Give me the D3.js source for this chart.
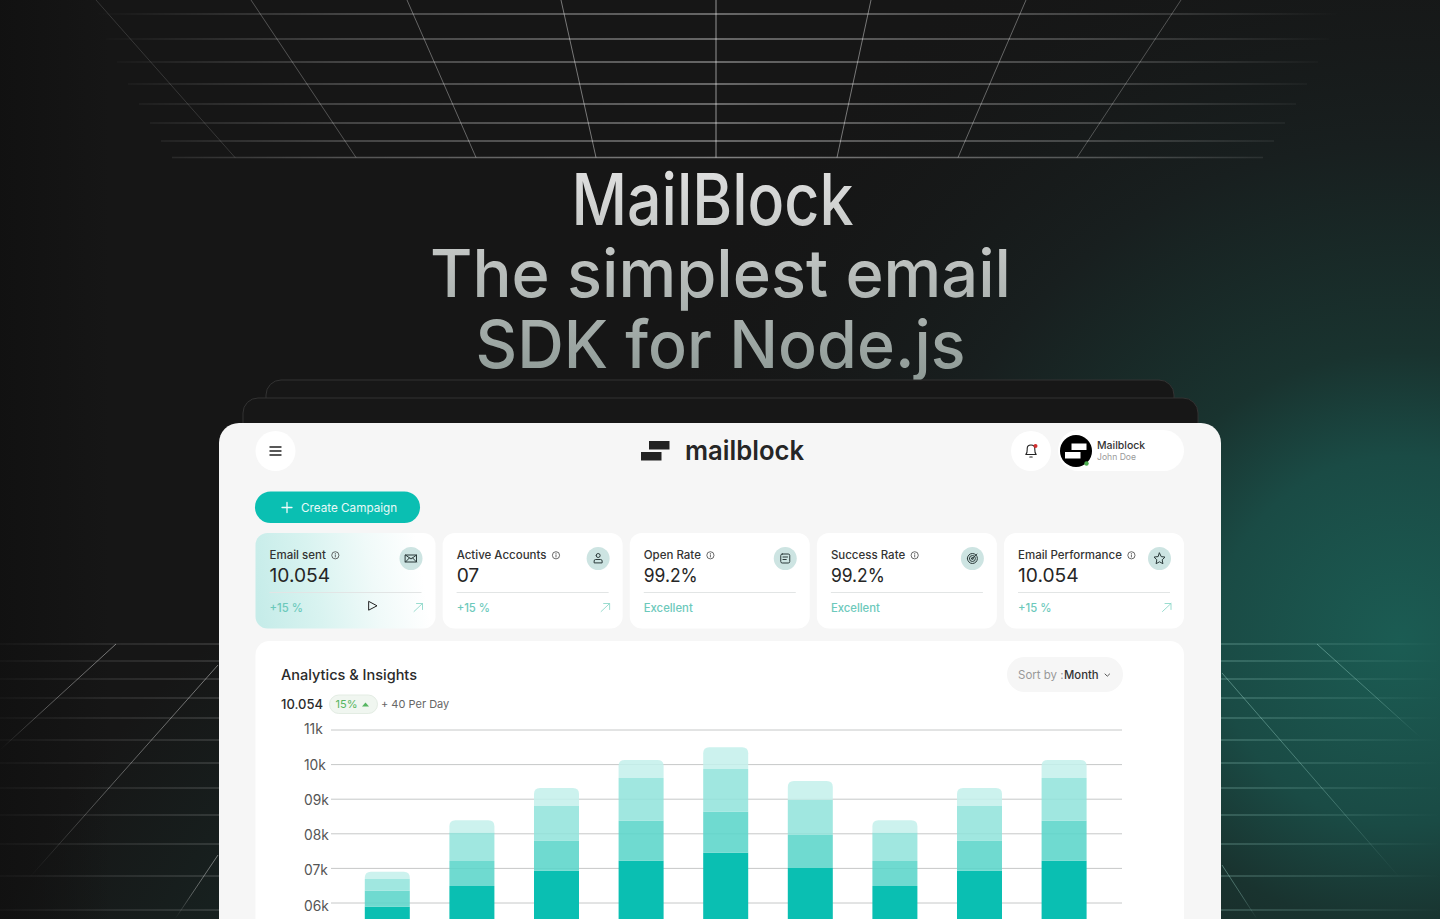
<!DOCTYPE html>
<html>
<head>
<meta charset="utf-8">
<title>MailBlock</title>
<script src="https://cdn.jsdelivr.net/npm/d3@7"></script>
<style>
html, body { margin: 0; padding: 0; background: #161616; overflow: hidden; }
svg { display: block; }
text { font-family: Inter, "Noto Sans", sans-serif; }
</style>
</head>
<body>
<div id="chart"></div>
<script>
// chart data (thousands)
const months = ["Jan", "Feb", "Mar", "Apr", "May", "Jun", "Jul", "Aug", "Sep"];
const sentValues = [5.88, 6.48, 6.92, 7.21, 7.44, 7.00, 6.48, 6.92, 7.21];
const openedValues = [0.46, 0.72, 0.87, 1.15, 1.18, 0.95, 0.72, 0.87, 1.15];
const clickedValues = [0.34, 0.82, 1.00, 1.24, 1.24, 1.02, 0.82, 1.00, 1.24];
const repliedValues = [0.21, 0.36, 0.52, 0.52, 0.63, 0.54, 0.36, 0.52, 0.52];
const yTicks = [6, 7, 8, 9, 10, 11];

const cardTitles = ["Email sent", "Active Accounts", "Open Rate", "Success Rate", "Email Performance"];
const cardValues = ["10.054", "07", "99.2%", "99.2%", "10.054"];
const cardNotes = ["+15 %", "+15 %", "Excellent", "Excellent", "+15 %"];
const cardIcons = ["mail", "user", "note", "target", "star"];

// backdrop wireframe
const topRows = [14, 39, 62, 84, 104, 123, 141, 157.5];
const topRays = [[96, 235, .14], [251, 356, .26], [407, 476, .34], [561, 596, .42], [716, 716, .55], [871, 837, .42], [1026, 958, .34], [1181, 1077, .26]];
const floorRows = [644, 661, 679, 698, 718, 740, 763, 788, 815, 844, 876, 910];
const floorRaysLeft = [[218, 855, 175, 919], [218, 665, 30, 877], [116, 644, 0, 750]];
const floorRaysRight = [[1222, 865, 1257, 919], [1222, 673, 1400, 878], [1317, 644, 1420, 737]];

const width = 1440, height = 919;
const svg = d3.select("#chart").append("svg").attr("width", width).attr("height", height);
const defs = svg.append("defs");

function gradient(id, attrs, stops, radial) {
    const g = defs.append(radial ? "radialGradient" : "linearGradient").attr("id", id).attr("gradientUnits", "userSpaceOnUse");
    Object.keys(attrs).forEach(k => g.attr(k, attrs[k]));
    stops.forEach(s => g.append("stop").attr("offset", s[0]).attr("stop-color", s[1]).attr("stop-opacity", s[2] === undefined ? 1 : s[2]));
}

gradient("glow", {cx: 1400, cy: 640, r: 800}, [[0, "#1b5c53"], [.23, "#1a4b45"], [.36, "#19332f"], [.62, "#181f1f"], [1, "#161616", 0]], true);
gradient("floorGlow", {cx: 600, cy: 1150, r: 640}, [[0, "#1c4a44", .7], [1, "#1c4a44", 0]], true);
gradient("leftShade", {x1: 0, x2: 110, y1: 0, y2: 0}, [[0, "#101010", .8], [1, "#101010", 0]]);
gradient("topRow", {x1: 95, x2: 1340, y1: 0, y2: 0}, [[0, "#fff", 0], [.2, "#fff", .26], [.5, "#fff", .46], [.8, "#fff", .26], [1, "#fff", 0]]);
gradient("floorLeft", {x1: 0, x2: 219, y1: 0, y2: 0}, [[0, "#fff", .04], [.5, "#fff", .16], [1, "#fff", .24]]);
gradient("floorRight", {x1: 1221, x2: 1440, y1: 0, y2: 0}, [[0, "#a6e0d4", .42], [.6, "#a6e0d4", .2], [1, "#a6e0d4", 0]]);
gradient("headline", {x1: 0, x2: 0, y1: 165, y2: 378}, [[0, "#e0e0e0"], [.45, "#bdc1bf"], [1, "#8f9b97"]]);
gradient("cardTint", {x1: 255, x2: 420, y1: 590, y2: 560}, [[0, "#c6ece9"], [.35, "#d8f3f0"], [.7, "#f0faf9"], [1, "#ffffff"]]);

// ---- backdrop
svg.append("rect").attr("width", width).attr("height", height).attr("fill", "#161616");
svg.append("rect").attr("width", width).attr("height", height).attr("fill", "url(#glow)");
svg.append("rect").attr("width", width).attr("height", height).attr("fill", "url(#floorGlow)");
svg.append("rect").attr("width", 110).attr("height", height).attr("fill", "url(#leftShade)");

const wire = svg.append("g").attr("fill", "none");
wire.selectAll(".top-row").data(topRows).enter().append("line")
    .attr("x1", (d, i) => 95 + i * 11).attr("x2", (d, i) => 1340 - i * 11)
    .attr("y1", d => d + .01).attr("y2", d => d)
    .attr("stroke", "url(#topRow)").attr("stroke-width", 1.3);
wire.selectAll(".top-ray").data(topRays).enter().append("line")
    .attr("x1", d => d[0]).attr("y1", 0).attr("x2", d => d[1]).attr("y2", 157.5)
    .attr("stroke", "#fff").attr("stroke-opacity", d => d[2]);
wire.selectAll(".floor-l").data(floorRows).enter().append("line")
    .attr("x1", 0).attr("x2", 219).attr("y1", d => d + .01).attr("y2", d => d)
    .attr("stroke", "url(#floorLeft)");
wire.selectAll(".floor-r").data(floorRows).enter().append("line")
    .attr("x1", 1221).attr("x2", 1440).attr("y1", d => d + .01).attr("y2", d => d)
    .attr("stroke", "url(#floorRight)");

// diagonal floor rays fade out as they leave the window
function fadingRay(ray, i, color, prefix) {
    const id = prefix + i;
    gradient(id, {x1: ray[0], y1: ray[1], x2: ray[2], y2: ray[3]}, [[0, color, .42], [.6, color, .3], [1, color, 0]]);
    wire.append("line").attr("x1", ray[0]).attr("y1", ray[1]).attr("x2", ray[2]).attr("y2", ray[3]).attr("stroke", `url(#${id})`);
}
floorRaysLeft.forEach((r, i) => fadingRay(r, i, "#ffffff", "rayL"));
floorRaysRight.forEach((r, i) => fadingRay(r, i, "#a6e0d4", "rayR"));

// ---- headline
const headlines = [
    {t: "MailBlock", y: 225, size: 72, len: 282, x: 712.5},
    {t: "The simplest email", y: 297, size: 66, len: 581, x: 720.5},
    {t: "SDK for Node.js", y: 368, size: 66, len: 490, x: 720.5}
];
svg.selectAll(".headline").data(headlines).enter().append("text")
    .attr("x", d => d.x).attr("y", d => d.y)
    .attr("text-anchor", "middle").attr("font-size", d => d.size).attr("font-weight", 500)
    .attr("textLength", d => d.len).attr("lengthAdjust", "spacingAndGlyphs")
    .attr("fill", "url(#headline)").text(d => d.t);

// ---- stacked card edges behind the app window
[[266, 380, 908], [243, 398, 955]].forEach(c => {
    svg.append("rect").attr("x", c[0]).attr("y", c[1]).attr("width", c[2]).attr("height", 120).attr("rx", 15)
        .attr("fill", "#171717").attr("stroke", "#333").attr("stroke-width", 1);
});

// ---- app window
svg.append("rect").attr("x", 219).attr("y", 423).attr("width", 1002).attr("height", 560).attr("rx", 20).attr("fill", "#f6f6f6");

function circle(parent, cx, cy, r, fill) {
    return parent.append("circle").attr("cx", cx).attr("cy", cy).attr("r", r).attr("fill", fill);
}
function label(parent, x, y, size, weight, fill, str) {
    return parent.append("text").attr("x", x).attr("y", y).attr("font-size", size).attr("font-weight", weight).attr("fill", fill).text(str);
}
function stroked(parent, d, color, w) {
    return parent.append("path").attr("d", d).attr("fill", "none").attr("stroke", color).attr("stroke-width", w || 1)
        .attr("stroke-linecap", "round").attr("stroke-linejoin", "round");
}

const app = svg.append("g");
circle(app, 275.5, 451, 20, "#fff");
stroked(app, "M270 447H281M270 451H281M270 455H281", "#222", 1.4);

// logo
app.append("rect").attr("x", 649).attr("y", 441).attr("width", 20.5).attr("height", 8.5).attr("fill", "#222");
app.append("rect").attr("x", 641).attr("y", 452).attr("width", 20.5).attr("height", 8.5).attr("fill", "#222");
label(app, 685, 460, 27, 600, "#262626", "mailblock").attr("textLength", 119).attr("lengthAdjust", "spacingAndGlyphs");

// bell + profile
circle(app, 1031, 451, 20, "#fff");
stroked(app, "M1025.8 454.5C1027.6 452.5 1027.2 450 1027.2 448.5C1027.2 446.3 1029 445 1031 445C1033 445 1034.8 446.3 1034.8 448.5C1034.8 450 1034.4 452.5 1036.2 454.5ZM1029.8 457H1032.2", "#222", 1.1);
circle(app, 1035.5, 446, 2, "#d32f2f");
app.append("rect").attr("x", 1058).attr("y", 430).attr("width", 126).attr("height", 41).attr("rx", 20.5).attr("fill", "#fff");
circle(app, 1076, 451, 16, "#000");
app.append("rect").attr("x", 1071.5).attr("y", 443.5).attr("width", 15).attr("height", 6.5).attr("fill", "#fff");
app.append("rect").attr("x", 1065).attr("y", 452).attr("width", 15.5).attr("height", 6.5).attr("fill", "#fff");
circle(app, 1086.5, 463.5, 2.2, "#4caf50");
label(app, 1097, 449, 10.5, 500, "#333", "Mailblock");
label(app, 1097, 460, 8.6, 400, "#9a9a9a", "John Doe");

// create button
app.append("rect").attr("x", 255).attr("y", 491.5).attr("width", 165).attr("height", 31.5).attr("rx", 15.75).attr("fill", "#0abfb2");
stroked(app, "M287 502.5V512.5M282 507.5H292", "#f0fbfa", 1.3);
label(app, 301, 511.5, 11.7, 400, "#e8faf8", "Create Campaign");

// ---- stat cards
const iconPaths = {
    mail: "M-5.5 -3.5H5.5V3.5H-5.5ZM-5.5 -3.5L0 0.5L5.5 -3.5M-5.5 3.5L-1.5 -0.7M5.5 3.5L1.5 -0.7",
    user: "M-2 -3A2 2 0 1 0 2 -3A2 2 0 1 0 -2 -3M-4 4V2.5Q-4 1 -2.5 1H2.5Q4 1 4 2.5V4Z",
    note: "M-3 -4.5H3Q4.5 -4.5 4.5 -3V3Q4.5 4.5 3 4.5H-3Q-4.5 4.5 -4.5 3V-3Q-4.5 -4.5 -3 -4.5ZM-2.3 -1.5H2.3M-2.3 1H1",
    target: "M-5 0A5 5 0 1 0 5 0A5 5 0 1 0 -5 0M-3 0A3 3 0 1 0 3 0A3 3 0 1 0 -3 0M-1 0A1 1 0 1 0 1 0A1 1 0 1 0 -1 0M0 0L4.5 -4.5",
    star: "M0 -5.5L1.7 -1.9L5.5 -1.4L2.7 1.3L3.4 5.2L0 3.3L-3.4 5.2L-2.7 1.3L-5.5 -1.4L-1.7 -1.9Z"
};
const cardX = d3.scalePoint().domain(cardTitles).range([255.5, 1004]);

cardTitles.forEach((title, i) => {
    const x = cardX(title);
    const g = app.append("g");
    g.append("rect").attr("x", x).attr("y", 533).attr("width", 180).attr("height", 95.5).attr("rx", 12)
        .attr("fill", i === 0 ? "url(#cardTint)" : "#fff");
    const t = label(g, x + 14, 559, 11.5, 500, "#333", title);
    const ix = x + 14 + t.node().getComputedTextLength() + 9.5;
    g.append("circle").attr("cx", ix).attr("cy", 555.3).attr("r", 3.6).attr("fill", "none").attr("stroke", "#444").attr("stroke-width", .8);
    stroked(g, `M${ix} 554.8V557M${ix} 553.4V553.5`, "#444", .8);
    const value = label(g, x + 14, 582, 19.2, 400, "#262626", cardValues[i]);
    if (cardValues[i].endsWith("%")) value.attr("textLength", 54).attr("lengthAdjust", "spacingAndGlyphs");
    g.append("line").attr("x1", x + 14).attr("x2", x + 166).attr("y1", 592.5).attr("y2", 592.5).attr("stroke", "#e2e5e5");
    label(g, x + 14, 611.5, 11.3, 500, "#6cc9bb", cardNotes[i]);
    circle(g, x + 155.5, 558.5, 11.5, "#cde4e2");
    stroked(g.append("g").attr("transform", `translate(${x + 155.5},558.5)`), iconPaths[cardIcons[i]], "#2b3a3a", 1);
    if (cardNotes[i] !== "Excellent") {
        stroked(g, `M${x + 158.5} 611.5L${x + 167} 603.5M${x + 161} 603.5H${x + 167}V609.5`, "#8ed8ca", .9);
    }
});
stroked(app, "M369 601.5L377 605.8L369 610Z", "#222", 1);

// ---- analytics panel
app.append("rect").attr("x", 255.5).attr("y", 641).attr("width", 928.5).attr("height", 320).attr("rx", 14).attr("fill", "#fff");
label(app, 281, 679.5, 14.5, 500, "#2a2a2a", "Analytics & Insights");
label(app, 281, 708.5, 13, 500, "#2a2a2a", "10.054");
app.append("rect").attr("x", 329.5).attr("y", 695).attr("width", 48).attr("height", 18.5).attr("rx", 9.25).attr("fill", "#f0f6f0").attr("stroke", "#e3ece3");
label(app, 335.5, 708, 11, 400, "#55b560", "15%");
app.append("path").attr("d", "M362 706.5L365.5 702.5L369 706.5Z").attr("fill", "#55b560");
label(app, 381, 708, 11, 400, "#666", "+ 40 Per Day");

app.append("rect").attr("x", 1007).attr("y", 657).attr("width", 116).attr("height", 35).attr("rx", 17.5).attr("fill", "#f6f6f6");
label(app, 1018, 679, 11.5, 400, "#999", "Sort by :");
label(app, 1064, 679, 11.3, 500, "#333", "Month");
stroked(app, "M1105 674L1107.3 676.2L1109.6 674", "#444", .9);

// ---- stacked bars
const chartLeft = 331, chartRight = 1122;
const y = d3.scaleLinear().domain([6, 11]).range([902.5, 729.5]);
const labelY = d3.scaleLinear().domain([6, 11]).range([905.7, 729.3]);
const x = d3.scaleBand().domain(months).range([345, 1106.4]).paddingInner(.468).paddingOuter(.234);

const yAxis = d3.axisLeft(y).tickValues(yTicks)
    .tickFormat(d => d3.format("02")(d) + "k")
    .tickSize(-(chartRight - chartLeft)).tickPadding(0);
const axisG = svg.append("g").attr("transform", `translate(${chartLeft},0)`).call(yAxis);
axisG.select(".domain").remove();
axisG.selectAll(".tick line").attr("stroke", "#c6c8c8").attr("stroke-width", 1);
// the labels run on a slightly taller scale than the grid lines in the reference
axisG.selectAll(".tick text").attr("x", -27).attr("y", d => labelY(d) - y(d)).attr("text-anchor", "start")
    .attr("font-family", "Inter, sans-serif").attr("font-size", 13.8).attr("fill", "#555");

const keys = ["sent", "opened", "clicked", "replied"];
const rows = months.map((m, i) => ({
    month: m, sent: sentValues[i], opened: openedValues[i], clicked: clickedValues[i], replied: repliedValues[i]
}));
const series = d3.stack().keys(keys)(rows);
const fills = d3.scaleOrdinal().domain(keys).range(["#0abfb2", "#5bd5ca", "#8fe3da", "#c3f0eb"]);
const alphas = d3.scaleOrdinal().domain(keys).range([1, .88, .85, .85]);

function barPath(d, key) {
    const bx = x(d.data.month), bw = x.bandwidth();
    const top = y(d[1]), bottom = Math.min(y(d[0]), height + 40);
    if (key !== "replied") return `M${bx} ${top}H${bx + bw}V${bottom}H${bx}Z`;
    const r = 6;
    return `M${bx} ${bottom}V${top + r}Q${bx} ${top} ${bx + r} ${top}H${bx + bw - r}Q${bx + bw} ${top} ${bx + bw} ${top + r}V${bottom}Z`;
}

svg.append("g").selectAll("g").data(series).enter().append("g")
    .attr("fill", s => fills(s.key)).attr("fill-opacity", s => alphas(s.key))
    .each(function (s) {
        d3.select(this).selectAll("path").data(s).enter().append("path")
            .attr("d", d => barPath(d, s.key));
    });
</script>
</body>
</html>
